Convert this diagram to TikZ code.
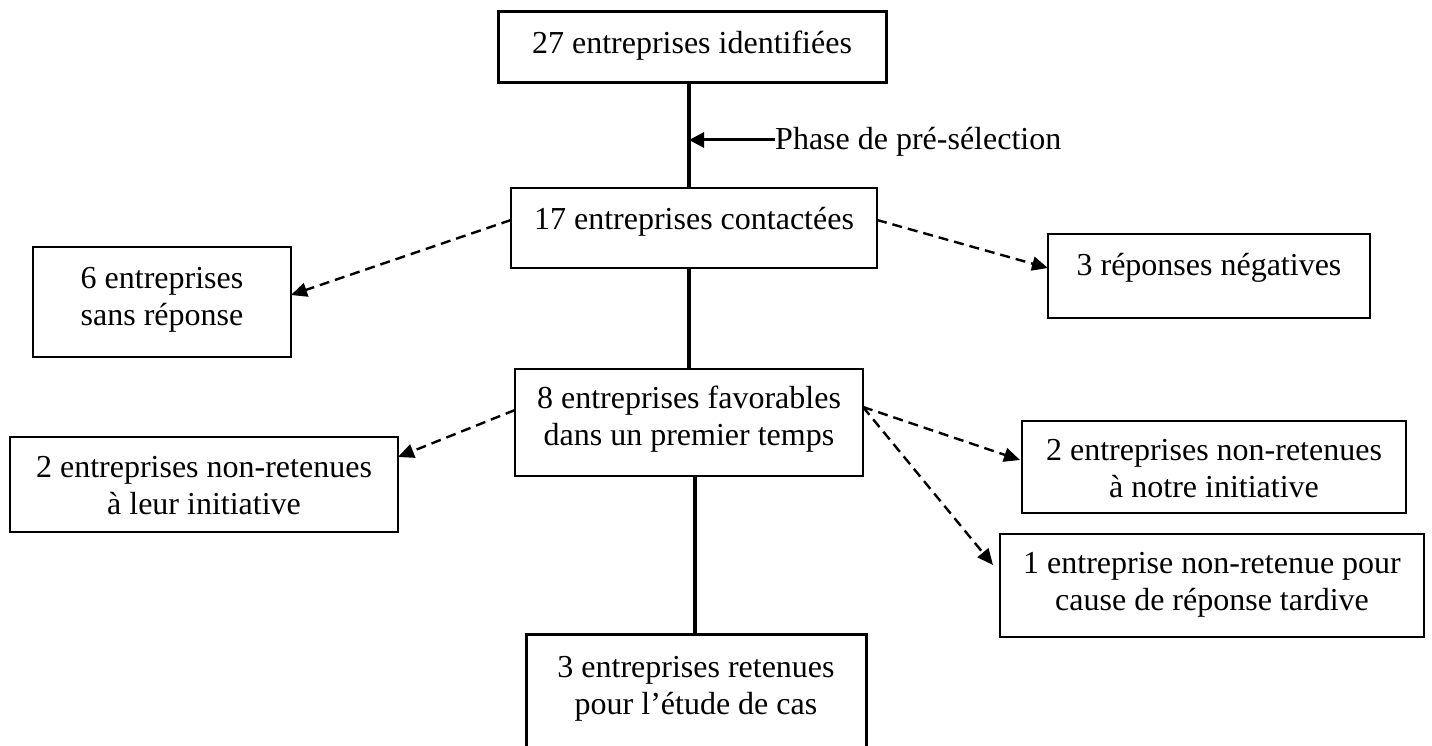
\documentclass[tikz,border=0pt]{standalone}
\usepackage{fontspec}
\setmainfont{Liberation Serif}
\usetikzlibrary{arrows.meta,calc}
\begin{document}
\begin{tikzpicture}[x=1pt,y=-1pt,
  box/.style={draw, line width=1.3pt, rectangle, inner sep=0pt, outer sep=0pt},
  thickbox/.style={box, line width=3pt},
  txt/.style={anchor=north, inner sep=0pt, align=center, font=\fontsize{32}{37}\selectfont},
  spine/.style={line width=4pt},
  solidarrow/.style={line width=3pt, -{Triangle[length=15pt,width=15pt]}},
  dasharrow/.style={line width=2.4pt, dash pattern=on 10pt off 6pt, -{Triangle[length=16pt,width=14pt]}}
]
\useasboundingbox (0,0) rectangle (1432,746);
\clip (0,0) rectangle (1432,746);

% boxes
\node[thickbox, minimum width=388pt, minimum height=71pt] (b27) at (692,47.5) {};
\node[box, minimum width=366pt, minimum height=80pt] (b17) at (694,228) {};
\node[box, minimum width=258pt, minimum height=110pt] (b6) at (162,302) {};
\node[box, minimum width=322pt, minimum height=84pt] (b3) at (1209,276) {};
\node[box, minimum width=348pt, minimum height=107pt] (b8) at (689,422.5) {};
\node[box, minimum width=388pt, minimum height=95pt] (b2l) at (204,484.5) {};
\node[box, minimum width=384pt, minimum height=92pt] (b2n) at (1214,467) {};
\node[box, minimum width=424pt, minimum height=103pt] (b1) at (1212,585.5) {};
\node[thickbox, minimum width=340pt, minimum height=136pt] (bf) at (696,702) {};

% texts
\node[txt] (t27) at ($(b27.north)+(0,11)$) {\rule{0pt}{30pt}27 entreprises identifiées};
\node[txt] (t17) at ($(b17.north)+(0,11)$) {\rule{0pt}{30pt}17 entreprises contactées};
\node[txt] (t6) at ($(b6.north)+(0,11)$) {\rule{0pt}{30pt}6 entreprises\\sans réponse};
\node[txt] (t3) at ($(b3.north)+(0,11)$) {\rule{0pt}{30pt}3 réponses négatives};
\node[txt] (t8) at ($(b8.north)+(0,9)$) {\rule{0pt}{30pt}8 entreprises favorables\\dans un premier temps};
\node[txt] (t2l) at ($(b2l.north)+(0,10)$) {\rule{0pt}{30pt}2 entreprises non-retenues\\à leur initiative};
\node[txt] (t2n) at ($(b2n.north)+(0,9)$) {\rule{0pt}{30pt}2 entreprises non-retenues\\à notre initiative};
\node[txt] (t1) at ($(b1.north)+(0,9)$) {\rule{0pt}{30pt}1 entreprise non-retenue pour\\cause de réponse tardive};
\node[txt] (tf) at ($(bf.north)+(0,13)$) {\rule{0pt}{30pt}3 entreprises retenues\\pour l’étude de cas};

% spine
\coordinate (s1) at (689,0);
\coordinate (s3) at (695,0);
\draw[spine] (b27.south -| s1) -- (b17.north -| s1);
\draw[spine] (b17.south -| s1) -- (b8.north -| s1);
\draw[spine] (b8.south -| s3) -- (bf.north -| s3);

% pre-selection label
\node[anchor=base west, inner sep=0pt, font=\fontsize{32}{37}\selectfont] (phase) at (775,150) {Phase de pré-sélection};
\coordinate (ph) at (689,140);
\draw[solidarrow] (phase.west |- ph) -- (ph);

% dashed arrows
\draw[dasharrow] ([yshift=8pt]b17.west) -- ([yshift=7pt]b6.east);
\draw[dasharrow] ([yshift=8pt]b17.east) -- ([yshift=8pt]b3.west);
\draw[dasharrow] ([yshift=12.5pt]b8.west) -- ([yshift=27.5pt]b2l.east);
\draw[dasharrow] ([yshift=15.5pt]b8.east) -- ([xshift=-2pt,yshift=7pt]b2n.west);
\draw[dasharrow] ([yshift=15.5pt]b8.east) -- ([xshift=-7pt,yshift=20.5pt]b1.west);
\end{tikzpicture}
\end{document}
